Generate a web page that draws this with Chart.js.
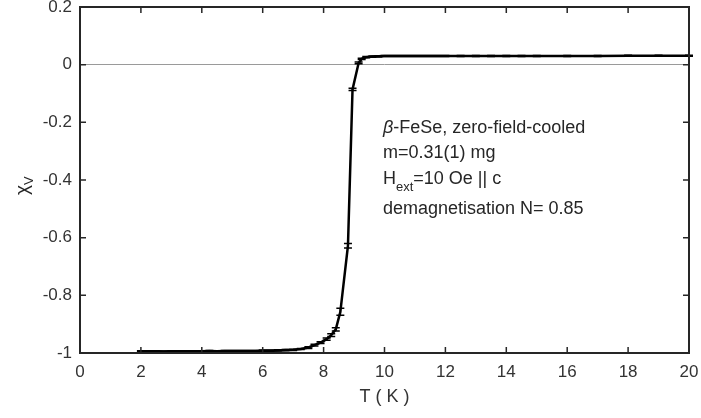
<!DOCTYPE html>
<html>
<head>
<meta charset="utf-8">
<script src="https://cdn.jsdelivr.net/npm/chart.js@4/dist/chart.umd.min.js"></script>
<style>
  html, body { margin: 0; padding: 0; background: #ffffff; }
  canvas { display: block; }
</style>
</head>
<body>
<canvas id="chart" width="701" height="418"></canvas>
<script>
// Temperature sweep (K)
const temperatures = [
  2.0, 2.25, 2.5, 2.75, 3.0, 3.25, 3.5, 3.75, 4.0, 4.25, 4.5, 4.75, 5.0, 5.25, 5.5,
  5.75, 6.0, 6.25, 6.5, 6.75, 7.0, 7.25, 7.5, 7.7, 7.9, 8.1, 8.25, 8.4, 8.55, 8.8,
  8.95, 9.15, 9.25, 9.4, 9.6, 9.8, 10.0, 10.2, 10.4, 10.6, 10.8, 11.0, 11.2, 11.4,
  11.6, 11.8, 12.0, 12.5, 13.0, 13.5, 14.0, 14.5, 15.0, 16.0, 17.0, 18.0, 19.0, 20.0
];

// Volume susceptibility, zero-field-cooled
const chiV = [
  -0.994, -0.994, -0.994, -0.995, -0.994, -0.994, -0.994, -0.994, -0.994, -0.993, -0.994, -0.993, -0.993, -0.993, -0.993,
  -0.993, -0.992, -0.992, -0.991, -0.990, -0.989, -0.986, -0.981, -0.973, -0.964, -0.952, -0.938, -0.918, -0.857, -0.628,
  -0.086, 0.006, 0.020, 0.026, 0.028, 0.029, 0.030, 0.030, 0.030, 0.030, 0.030, 0.030, 0.030, 0.030,
  0.030, 0.030, 0.030, 0.030, 0.030, 0.030, 0.030, 0.030, 0.030, 0.030, 0.030, 0.031, 0.031, 0.031
];

// Uncertainty of each point
const chiErr = [
  0.002, 0.002, 0.002, 0.002, 0.002, 0.002, 0.002, 0.002, 0.002, 0.002, 0.002, 0.002, 0.002, 0.002, 0.002,
  0.002, 0.002, 0.002, 0.002, 0.002, 0.002, 0.002, 0.003, 0.003, 0.003, 0.004, 0.005, 0.006, 0.012, 0.008,
  0.004, 0.003, 0.002, 0.002, 0.002, 0.002, 0.002, 0.002, 0.002, 0.002, 0.002, 0.002, 0.002, 0.002,
  0.002, 0.002, 0.002, 0.002, 0.002, 0.002, 0.002, 0.002, 0.002, 0.002, 0.002, 0.002, 0.002, 0.002
];

// Axis ticks
const xTicks = [0, 2, 4, 6, 8, 10, 12, 14, 16, 18, 20];
const yTicks = [-1, -0.8, -0.6, -0.4, -0.2, 0, 0.2];

// Annotation lines and where the block is anchored (data coordinates)
const noteAnchor = { T: 9.95, chi: -0.236 };
const noteLines = [
  { parts: [['β', 'italic'], ['-FeSe, zero-field-cooled', '']] },
  { parts: [['m=0.31(1) mg', '']] },
  { parts: [['H', ''], ['ext', 'sub'], ['=10 Oe || c', '']] },
  { parts: [['demagnetisation N= 0.85', '']] }
];

const FONT = '"Liberation Sans", Arial, Helvetica, sans-serif';
const INK = '#262626';

// Inward ticks on all four sides plus the box frame
const framePlugin = {
  id: 'frame',
  afterDatasetsDraw(chart) {
    const { ctx, chartArea: a, scales: { x, y } } = chart;
    const len = 6;
    ctx.save();
    ctx.strokeStyle = INK;
    ctx.lineWidth = 1.5;
    ctx.beginPath();
    xTicks.forEach(v => {
      const px = x.getPixelForValue(v);
      ctx.moveTo(px, a.bottom); ctx.lineTo(px, a.bottom - len);
      ctx.moveTo(px, a.top); ctx.lineTo(px, a.top + len);
    });
    yTicks.forEach(v => {
      const py = y.getPixelForValue(v);
      ctx.moveTo(a.left, py); ctx.lineTo(a.left + len, py);
      ctx.moveTo(a.right, py); ctx.lineTo(a.right - len, py);
    });
    ctx.stroke();
    ctx.lineWidth = 2;
    ctx.strokeRect(a.left, a.top, a.right - a.left, a.bottom - a.top);
    ctx.restore();
  }
};

// Vertical error bars with caps
const errorBarPlugin = {
  id: 'errorBars',
  afterDatasetsDraw(chart) {
    const { ctx, scales: { x, y } } = chart;
    const cap = 4;
    ctx.save();
    ctx.strokeStyle = '#000000';
    ctx.lineWidth = 1.5;
    ctx.beginPath();
    temperatures.forEach((t, i) => {
      const px = x.getPixelForValue(t);
      const lo = y.getPixelForValue(chiV[i] - chiErr[i]);
      const hi = y.getPixelForValue(chiV[i] + chiErr[i]);
      ctx.moveTo(px, lo); ctx.lineTo(px, hi);
      ctx.moveTo(px - cap, lo); ctx.lineTo(px + cap, lo);
      ctx.moveTo(px - cap, hi); ctx.lineTo(px + cap, hi);
    });
    ctx.stroke();
    ctx.restore();
  }
};

// Y-axis label with subscript and the text block inside the plot
const textPlugin = {
  id: 'texts',
  afterDraw(chart) {
    const { ctx, chartArea: a, scales: { x, y } } = chart;
    ctx.save();
    ctx.fillStyle = INK;
    ctx.textBaseline = 'alphabetic';
    ctx.textAlign = 'left';

    // χ_V, rotated
    const cy = (a.top + a.bottom) / 2;
    ctx.save();
    ctx.translate(28, cy + 15);
    ctx.rotate(-Math.PI / 2);
    ctx.font = '19px ' + FONT;
    ctx.fillText('χ', 0, 0);
    const w = ctx.measureText('χ').width;
    ctx.font = '13px ' + FONT;
    ctx.fillText('V', w, 5);
    ctx.restore();

    // annotation block
    const x0 = x.getPixelForValue(noteAnchor.T);
    const y0 = y.getPixelForValue(noteAnchor.chi);
    const offsets = [0, 25, 51, 81];
    noteLines.forEach((line, i) => {
      let cx = x0;
      const by = y0 + offsets[i];
      line.parts.forEach(([txt, style]) => {
        if (style === 'sub') {
          ctx.font = '13px ' + FONT;
          ctx.fillText(txt, cx, by + 7);
        } else if (style === 'italic') {
          ctx.font = 'italic 18px ' + FONT;
          ctx.fillText(txt, cx, by);
        } else {
          ctx.font = '18px ' + FONT;
          ctx.fillText(txt, cx, by);
        }
        cx += ctx.measureText(txt).width;
      });
    });
    ctx.restore();
  }
};

new Chart(document.getElementById('chart'), {
  type: 'line',
  data: {
    datasets: [{
      data: temperatures.map((t, i) => ({ x: t, y: chiV[i] })),
      borderColor: '#000000',
      borderWidth: 2.5,
      pointRadius: 0,
      tension: 0,
      fill: false
    }]
  },
  options: {
    responsive: false,
    devicePixelRatio: 1,
    animation: false,
    layout: { padding: { top: 7, right: 12, left: 0, bottom: 0 } },
    plugins: { legend: { display: false }, tooltip: { enabled: false } },
    scales: {
      x: {
        type: 'linear',
        min: 0, max: 20,
        afterBuildTicks: s => { s.ticks = xTicks.map(v => ({ value: v })); },
        afterFit: s => { s.height = 65; s.paddingLeft = 0; s.paddingRight = 0; },
        grid: { display: false, drawTicks: false },
        border: { display: false },
        ticks: {
          padding: 9,
          color: '#333333',
          font: { family: FONT, size: 17 },
          maxRotation: 0,
          callback: v => String(v)
        },
        title: {
          display: true,
          text: 'T ( K )',
          color: '#333333',
          font: { family: FONT, size: 18 },
          padding: { top: 0, bottom: 10 }
        }
      },
      y: {
        type: 'linear',
        min: -1, max: 0.2,
        afterBuildTicks: s => { s.ticks = yTicks.map(v => ({ value: v })); },
        afterFit: s => { s.width = 80; s.paddingTop = 0; s.paddingBottom = 0; },
        grid: {
          drawTicks: false,
          lineWidth: 1,
          color: c => (c.tick && c.tick.value === 0) ? '#9a9a9a' : 'rgba(0,0,0,0)'
        },
        border: { display: false },
        ticks: {
          padding: 8,
          color: '#333333',
          font: { family: FONT, size: 17 },
          callback: v => String(v)
        }
      }
    }
  },
  plugins: [errorBarPlugin, framePlugin, textPlugin]
});
</script>
</body>
</html>
